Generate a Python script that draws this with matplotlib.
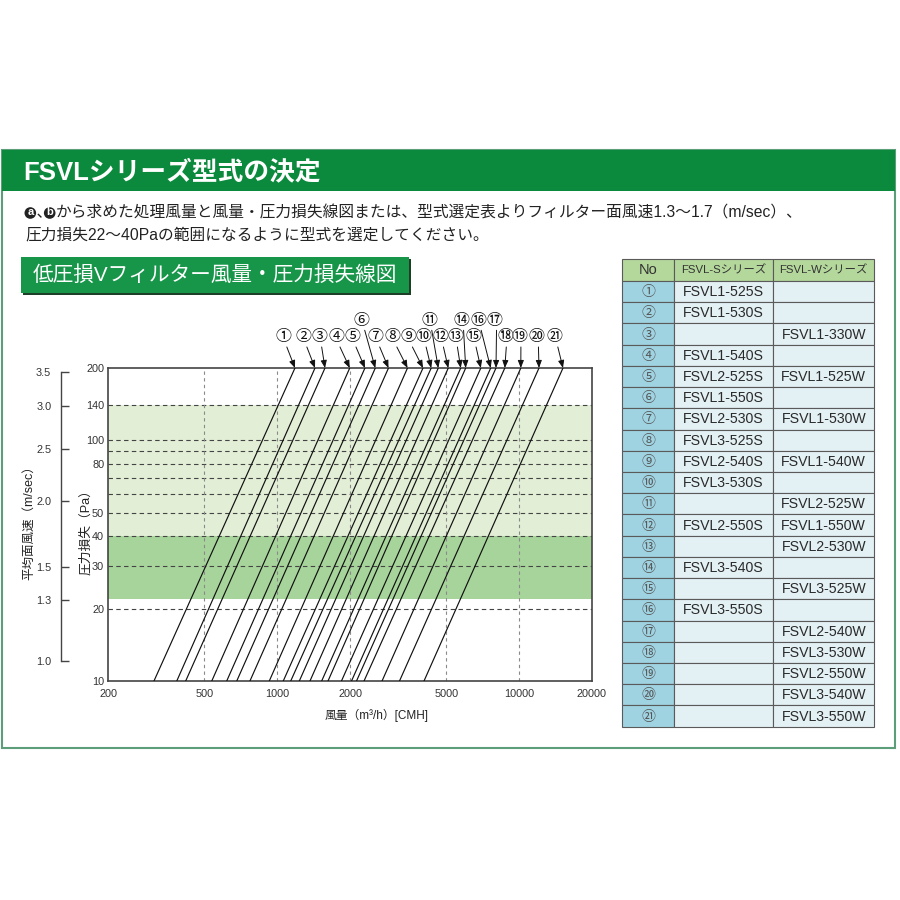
import matplotlib
matplotlib.use("Agg")
import matplotlib.pyplot as plt
from matplotlib.patches import Rectangle, Circle
from matplotlib.ticker import NullLocator

plt.rcParams['font.family'] = ['Liberation Sans', 'Noto Sans CJK JP', 'DejaVu Sans']

# ---------------- data ----------------
airflow_ticks = [200, 500, 1000, 2000, 5000, 10000, 20000]
airflow_grid = [500, 1000, 2000, 5000, 10000]
pressure_ticks = [10, 20, 30, 40, 50, 80, 100, 140, 200]
pressure_grid = [20, 30, 40, 50, 60, 70, 80, 90, 100, 140]
velocity_labels = ['1.0', '1.3', '1.5', '2.0', '2.5', '3.0', '3.5']
velocity_at_pressure = [12.1, 21.7, 29.7, 56.1, 92.0, 139.0, 193.0]   # Pa level of each velocity tick
band_recommended = (22, 40)
band_light = (40, 140)

filter_no = ['①', '②', '③', '④', '⑤', '⑥', '⑦', '⑧', '⑨', '⑩', '⑪',
             '⑫', '⑬', '⑭', '⑮', '⑯', '⑰', '⑱', '⑲', '⑳', '㉑']
flow_at_10pa = [309, 384, 418, 536, 618, 680, 771, 927, 1059, 1137, 1234,
                1366, 1527, 1622, 1844, 2029, 2128, 2286, 2714, 3205, 4048]
flow_at_200pa = [1184, 1433, 1576, 1995, 2306, 2545, 2886, 3459, 4009, 4335, 4638,
                 5101, 5742, 6022, 6954, 7640, 8036, 8742, 10180, 12106, 15214]

s_series = ['FSVL1-525S', 'FSVL1-530S', '', 'FSVL1-540S', 'FSVL2-525S', 'FSVL1-550S',
            'FSVL2-530S', 'FSVL3-525S', 'FSVL2-540S', 'FSVL3-530S', '', 'FSVL2-550S',
            '', 'FSVL3-540S', '', 'FSVL3-550S', '', '', '', '', '']
w_series = ['', '', 'FSVL1-330W', '', 'FSVL1-525W', '', 'FSVL1-530W', '', 'FSVL1-540W',
            '', 'FSVL2-525W', 'FSVL1-550W', 'FSVL2-530W', '', 'FSVL3-525W', '',
            'FSVL2-540W', 'FSVL3-530W', 'FSVL2-550W', 'FSVL3-540W', 'FSVL3-550W']
table_header = ['No', 'FSVL-Sシリーズ', 'FSVL-Wシリーズ']

# ---------------- layout (pixels) ----------------
label_dx = [-11.7, -11.7, -5.7, -13.7, -12.7, -13.6, -12.5, -14.8, -14.7, -7.9, -9.0,
            -7.6, -5.7, -4.0, -7.5, -12.4, -1.0, 0.2, -1.5, -2.3, -8.0]
label_row = [0, 0, 0, 0, 0, 1, 0, 0, 0, 0, 1, 0, 0, 1, 0, 1, 1, 0, 0, 0, 0]
row_dy = [31.3, 48.0]

W = H = 900
fig = plt.figure(figsize=(9, 9), dpi=100)
fig.patch.set_facecolor('white')

bg = fig.add_axes([0, 0, 1, 1], zorder=0)
bg.set_xlim(0, W)
bg.set_ylim(H, 0)
bg.axis('off')

GREEN = '#0b8a3d'
# outer frame & header bar
bg.add_patch(Rectangle((2, 150), 893, 598, fill=False, ec='#5c9e7a', lw=1.5))
bg.add_patch(Rectangle((2, 150), 893, 41, fc=GREEN, ec='none'))
bg.text(23, 172, 'FSVLシリーズ型式の決定', color='white', fontsize=18.5,
        fontweight='bold', ha='left', va='center')

# body text
TXT = '#222222'
bg.add_patch(Circle((30.3, 213), 5.8, fc='#222222', ec='none'))
bg.text(30.3, 212.3, 'a', color='white', fontsize=8, fontweight='bold', ha='center', va='center')
bg.text(36.5, 213, '､', color=TXT, fontsize=11.3, ha='left', va='center')
bg.add_patch(Circle((49.7, 213), 5.8, fc='#222222', ec='none'))
bg.text(49.7, 212.3, 'b', color='white', fontsize=8, fontweight='bold', ha='center', va='center')
bg.text(56, 213, 'から求めた処理風量と風量・圧力損失線図または、型式選定表よりフィルター面風速1.3～1.7（m/sec）、',
        color=TXT, fontsize=11.3, ha='left', va='center')
bg.text(25, 235, '圧力損失22～40Paの範囲になるように型式を選定してください。',
        color=TXT, fontsize=11.3, ha='left', va='center')

# subtitle box
bg.add_patch(Rectangle((22.7, 259.3), 388.6, 36, fc='#1d3f27', ec='none'))
bg.add_patch(Rectangle((20.7, 257.3), 388.6, 36, fc='#17964a', ec='none'))
bg.text(33, 275.5, '低圧損Vフィルター風量・圧力損失線図', color='white', fontsize=14.9,
        ha='left', va='center')

# ---------------- chart ----------------
L, R, T, B = 108.3, 591.7, 368.0, 681.0
ax = fig.add_axes([L / W, 1 - B / H, (R - L) / W, (B - T) / H], zorder=2)
ax.set_xscale('log')
ax.set_yscale('log')
ax.set_xlim(airflow_ticks[0], airflow_ticks[-1])
ax.set_ylim(pressure_ticks[0], pressure_ticks[-1])
ax.axhspan(*band_light, color='#e2eed6', lw=0, zorder=0.5)
ax.axhspan(*band_recommended, color='#a7d49b', lw=0, zorder=0.6)
for p in pressure_grid:
    ax.axhline(p, color='#444444', lw=0.8, ls=(0, (4, 3)), zorder=1)
for q in airflow_grid:
    ax.axvline(q, color='#8a8a8a', lw=0.8, ls=(0, (3, 3)), zorder=1)
for q0, q1 in zip(flow_at_10pa, flow_at_200pa):
    ax.plot([q0, q1], [pressure_ticks[0], pressure_ticks[-1]], color='#111111', lw=0.85, zorder=3)

ax.set_xticks(airflow_ticks, labels=[str(v) for v in airflow_ticks])
ax.set_yticks(pressure_ticks, labels=[str(v) for v in pressure_ticks])
ax.xaxis.set_minor_locator(NullLocator())
ax.yaxis.set_minor_locator(NullLocator())
ax.tick_params(axis='both', length=0, labelsize=7.8, labelcolor='#333333')
ax.tick_params(axis='x', pad=6)
ax.tick_params(axis='y', pad=3)
for s in ax.spines.values():
    s.set_color('#444444')
    s.set_linewidth(1.2)

for i, lab in enumerate(filter_no):
    ax.annotate(lab, xy=(flow_at_200pa[i], pressure_ticks[-1]),
                xytext=(label_dx[i], row_dy[label_row[i]]), textcoords='offset pixels',
                ha='center', va='center', fontsize=11.5, color='#111111',
                annotation_clip=False,
                arrowprops=dict(arrowstyle='-|>,head_length=0.45,head_width=0.18',
                                color='#111111', lw=0.7, shrinkA=0, shrinkB=0,
                                relpos=(0.6, 0.15), mutation_scale=10))

# velocity scale
axv = fig.add_axes([61 / W, 1 - B / H, 0.0001, (B - T) / H], zorder=2)
axv.set_yscale('log')
axv.set_ylim(pressure_ticks[0], pressure_ticks[-1])
axv.patch.set_visible(False)
for k in ['right', 'top', 'bottom']:
    axv.spines[k].set_visible(False)
axv.spines['left'].set_bounds(velocity_at_pressure[0], velocity_at_pressure[-1])
axv.spines['left'].set_color('#444444')
axv.spines['left'].set_linewidth(1.0)
axv.set_xticks([])
axv.set_yticks(velocity_at_pressure, labels=velocity_labels)
axv.yaxis.set_minor_locator(NullLocator())
axv.tick_params(axis='y', direction='in', length=6, width=1.0, color='#444444',
                labelsize=7.8, labelcolor='#333333', pad=7)

bg.text(29, 520, '平均面風速（m/sec）', rotation=90, ha='center', va='center',
        fontsize=9, color=TXT)
bg.text(86, 529, '圧力損失（Pa）', rotation=90, ha='center', va='center',
        fontsize=9.2, color=TXT)
bg.text(325, 715, '風量（m³/h）[CMH]', ha='left', va='center', fontsize=8.5, color=TXT)

# ---------------- table ----------------
col_x = [622.3, 674.0, 773.3, 874.3]
head_top, head_bot = 259.0, 281.0
row_h = (726.7 - head_bot) / len(filter_no)
GRID = '#5a5a5a'
for c in range(3):
    bg.add_patch(Rectangle((col_x[c], head_top), col_x[c + 1] - col_x[c], head_bot - head_top,
                           fc='#b4d89c', ec=GRID, lw=0.8))
    bg.text((col_x[c] + col_x[c + 1]) / 2, (head_top + head_bot) / 2 + 0.5, table_header[c],
            ha='center', va='center', fontsize=10.5 if c == 0 else 8.2, color='#333333')
for r in range(len(filter_no)):
    y0 = head_bot + r * row_h
    cells = [filter_no[r], s_series[r], w_series[r]]
    for c in range(3):
        bg.add_patch(Rectangle((col_x[c], y0), col_x[c + 1] - col_x[c], row_h,
                               fc='#9fd3e2' if c == 0 else '#e3f0f4', ec=GRID, lw=0.8))
        if cells[c]:
            bg.text((col_x[c] + col_x[c + 1]) / 2, y0 + row_h / 2 + 0.5, cells[c],
                    ha='center', va='center', fontsize=10 if c == 0 else 10.2,
                    color='#555555' if c == 0 else '#2a2a2a')

fig.savefig('out.png', dpi=100)
